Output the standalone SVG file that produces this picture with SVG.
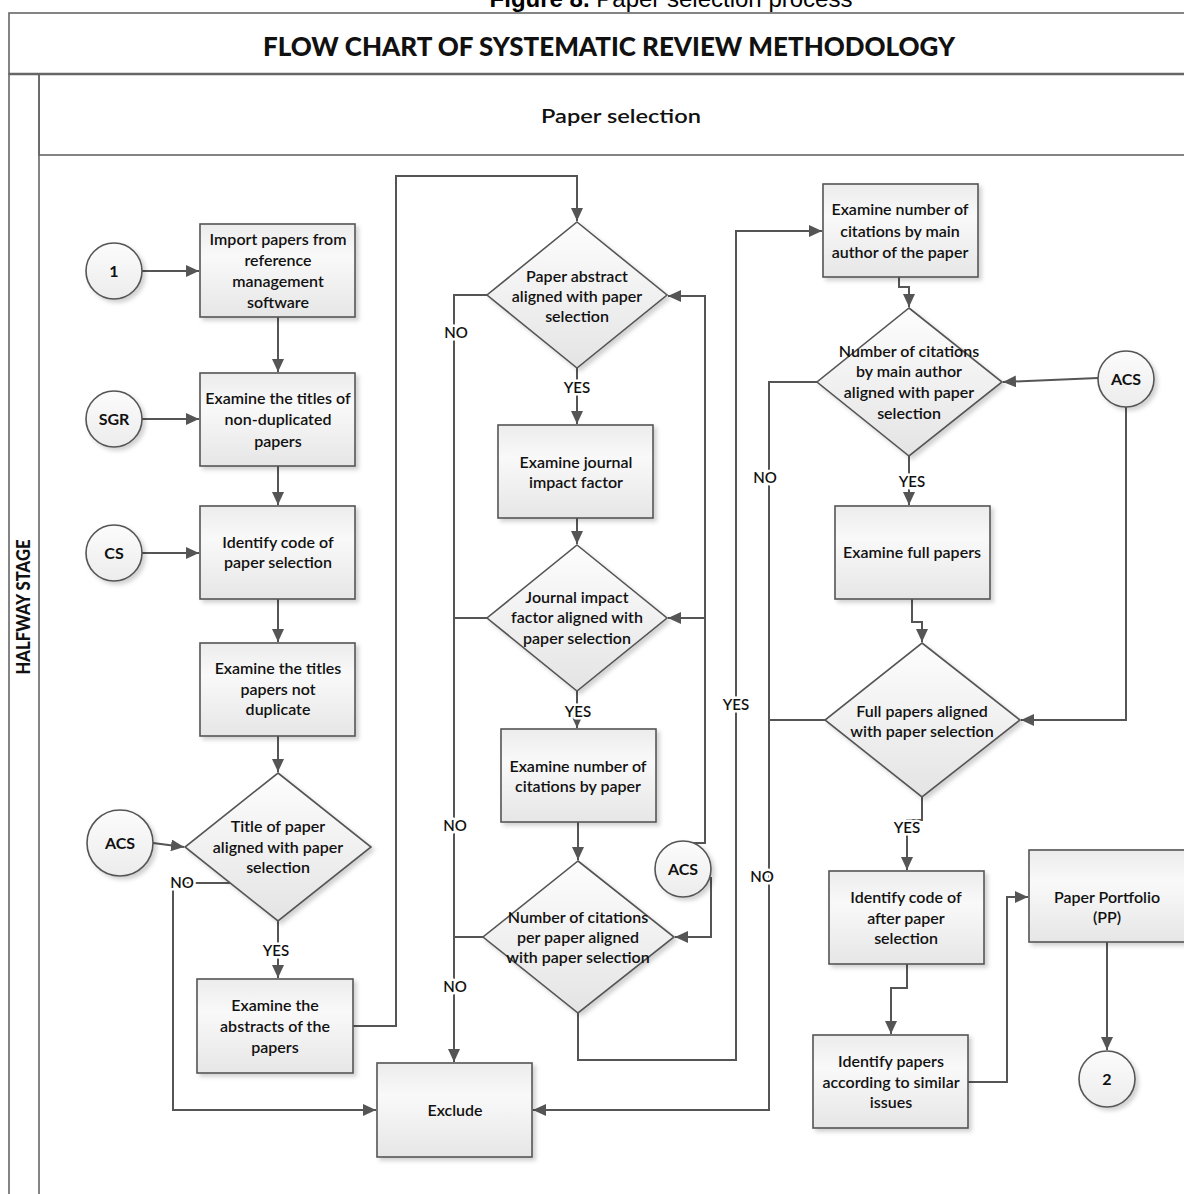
<svg xmlns="http://www.w3.org/2000/svg" width="1184" height="1194" viewBox="0 0 1184 1194">
  <style>
    .frame { fill: none; stroke: #666; stroke-width: 1.6; }
    .node { stroke: #555; stroke-width: 1.6; filter: url(#shadow); }
    .box { fill: url(#boxFill); }
    .dia { fill: url(#diaFill); }
    .circ { fill: url(#circFill); }
    .txt { font-family: "Lato", "Liberation Sans", sans-serif; font-size: 16px; font-weight: 600; fill: #111; text-anchor: middle; }
    .ctxt { font-family: "Lato", "Liberation Sans", sans-serif; font-size: 16px; font-weight: bold; fill: #111; text-anchor: middle; }
    .lbl { font-family: "Lato", "Liberation Sans", sans-serif; font-size: 15px; font-weight: 600; fill: #111; text-anchor: middle; paint-order: stroke; stroke: #fff; stroke-width: 5px; stroke-linejoin: round; }
    .edge { fill: none; stroke: #555; stroke-width: 2; }
    .arr { marker-end: url(#arrow); }
  </style>
  <defs>
    <linearGradient id="boxFill" x1="0" y1="0" x2="0" y2="1">
      <stop offset="0" stop-color="#ececec"/>
      <stop offset="0.35" stop-color="#f9f9f9"/>
      <stop offset="1" stop-color="#e6e6e6"/>
    </linearGradient>
    <linearGradient id="diaFill" x1="0" y1="0" x2="0" y2="1">
      <stop offset="0" stop-color="#fdfdfd"/>
      <stop offset="1" stop-color="#e4e4e4"/>
    </linearGradient>
    <linearGradient id="circFill" x1="0" y1="0" x2="0" y2="1">
      <stop offset="0" stop-color="#fcfcfc"/>
      <stop offset="1" stop-color="#ececec"/>
    </linearGradient>
    <linearGradient id="bandFill" x1="0" y1="0" x2="0" y2="1">
      <stop offset="0" stop-color="#f8f8f8"/>
      <stop offset="1" stop-color="#e3e3e3"/>
    </linearGradient>
    <linearGradient id="laneFill" x1="0" y1="0" x2="1" y2="0">
      <stop offset="0" stop-color="#fdfdfd"/>
      <stop offset="1" stop-color="#e6e6e6"/>
    </linearGradient>
    <filter id="shadow" x="-10%" y="-10%" width="130%" height="130%">
      <feDropShadow dx="3" dy="3" stdDeviation="2" flood-color="#000" flood-opacity="0.18"/>
    </filter>
    <marker id="arrow" viewBox="0 0 13 12" refX="13" refY="6" markerWidth="13" markerHeight="12" markerUnits="userSpaceOnUse" orient="auto">
      <path d="M0,0 L13,6 L0,12 z" fill="#555"/>
    </marker>
  </defs>

  <rect width="1184" height="1194" fill="#fff"/>

  <!-- caption -->
  <text x="671" y="7" font-family="Liberation Sans, Arial, sans-serif" font-size="24" text-anchor="middle" fill="#000"><tspan font-weight="bold">Figure 8.</tspan> Paper selection process</text>

  <!-- pool and lane frame -->
  <g id="frame">
    <rect x="9" y="13" width="1185" height="61" fill="url(#bandFill)" class="frame"/>
    <rect x="9" y="74" width="30" height="1130" fill="url(#laneFill)" class="frame"/>
    <rect x="39" y="74" width="1155" height="81" fill="url(#bandFill)" class="frame"/>
    <line x1="9" y1="74" x2="1184" y2="74" stroke="#666" stroke-width="2.5"/>
    <text x="609" y="56" font-family="Lato, Liberation Sans, sans-serif" font-size="26" font-weight="900" text-anchor="middle" fill="#111" textLength="692" lengthAdjust="spacingAndGlyphs">FLOW CHART OF SYSTEMATIC REVIEW METHODOLOGY</text>
    <text x="621" y="123" font-family="Lato, Liberation Sans, sans-serif" font-size="20" font-weight="600" text-anchor="middle" fill="#111" textLength="160" lengthAdjust="spacingAndGlyphs">Paper selection</text>
    <text transform="translate(30,607) rotate(-90)" font-family="Lato, Liberation Sans, sans-serif" font-size="18" font-weight="900" text-anchor="middle" fill="#111" textLength="135" lengthAdjust="spacingAndGlyphs">HALFWAY STAGE</text>
  </g>

  <!-- connectors -->
  <g id="connectors">
    <path class="edge arr" d="M142,271 H199"/>
    <path class="edge arr" d="M278,317 V372"/>
    <path class="edge arr" d="M142,419 H199"/>
    <path class="edge arr" d="M278,466 V505"/>
    <path class="edge arr" d="M142,553 H199"/>
    <path class="edge arr" d="M278,599 V642"/>
    <path class="edge arr" d="M278,736 V772"/>
    <path class="edge arr" d="M153,843 Q168,845 184,847"/>
    <path class="edge arr" d="M231,883 H173 V1110 H376"/>
    <path class="edge arr" d="M278,921 V978"/>
    <path class="edge arr" d="M353,1026 H396 V176 H577 V221"/>
    <path class="edge arr" d="M487,295 H454 V1062"/>
    <path class="edge" d="M487,618 H454"/>
    <path class="edge" d="M483,937 H454"/>
    <path class="edge arr" d="M577,368 V424"/>
    <path class="edge arr" d="M577,518 V544"/>
    <path class="edge arr" d="M577,691 V728"/>
    <path class="edge arr" d="M578,822 V860"/>
    <path class="edge arr" d="M690,843 H705 V296 H668"/>
    <path class="edge arr" d="M705,618 H668"/>
    <path class="edge arr" d="M711,877 V937 H675"/>
    <path class="edge arr" d="M578,1013 V1060 H736 V231 H822"/>
    <path class="edge arr" d="M899,277 V287 H909 V307"/>
    <path class="edge arr" d="M1098,378 L1003,382"/>
    <path class="edge arr" d="M817,382 H769 V1110 H533"/>
    <path class="edge arr" d="M909,456 V505"/>
    <path class="edge arr" d="M912,599 V622 H922 V642"/>
    <path class="edge arr" d="M1126,407 V720 H1021"/>
    <path class="edge" d="M825,720 H769"/>
    <path class="edge arr" d="M922,797 V820 H907 V870"/>
    <path class="edge arr" d="M907,964 V988 H891 V1034"/>
    <path class="edge arr" d="M968,1082 H1007 V897 H1028"/>
    <path class="edge arr" d="M1107,942 V1050"/>

    <text class="lbl" x="182" y="888">NO</text>
    <text class="lbl" x="276" y="956">YES</text>
    <text class="lbl" x="456" y="338">NO</text>
    <text class="lbl" x="455" y="831">NO</text>
    <text class="lbl" x="455" y="992">NO</text>
    <text class="lbl" x="577" y="393">YES</text>
    <text class="lbl" x="578" y="717">YES</text>
    <text class="lbl" x="736" y="710">YES</text>
    <text class="lbl" x="765" y="483">NO</text>
    <text class="lbl" x="762" y="882">NO</text>
    <text class="lbl" x="912" y="487">YES</text>
    <text class="lbl" x="907" y="833">YES</text>
  </g>

  <!-- column 1 -->
  <g id="start1">
    <circle class="node circ" cx="114" cy="271" r="28"/>
    <text class="ctxt" x="114" y="277">1</text>
  </g>
  <g id="import">
    <rect class="node box" x="200" y="224" width="155" height="93"/>
    <text class="txt" x="278" y="245">Import papers from</text>
    <text class="txt" x="278" y="266">reference</text>
    <text class="txt" x="278" y="287">management</text>
    <text class="txt" x="278" y="308">software</text>
  </g>
  <g id="sgr">
    <circle class="node circ" cx="114" cy="419" r="28"/>
    <text class="ctxt" x="114" y="425">SGR</text>
  </g>
  <g id="titles">
    <rect class="node box" x="200" y="373" width="155" height="93"/>
    <text class="txt" x="278" y="404">Examine the titles of</text>
    <text class="txt" x="278" y="425">non-duplicated</text>
    <text class="txt" x="278" y="447">papers</text>
  </g>
  <g id="cs">
    <circle class="node circ" cx="114" cy="553" r="28"/>
    <text class="ctxt" x="114" y="559">CS</text>
  </g>
  <g id="code">
    <rect class="node box" x="200" y="506" width="155" height="93"/>
    <text class="txt" x="278" y="548">Identify code of</text>
    <text class="txt" x="278" y="568">paper selection</text>
  </g>
  <g id="notdup">
    <rect class="node box" x="200" y="643" width="155" height="93"/>
    <text class="txt" x="278" y="674">Examine the titles</text>
    <text class="txt" x="278" y="695">papers not</text>
    <text class="txt" x="278" y="715">duplicate</text>
  </g>
  <g id="acs1">
    <circle class="node circ" cx="120" cy="843" r="33"/>
    <text class="ctxt" x="120" y="849">ACS</text>
  </g>
  <g id="titleCheck">
    <polygon class="node dia" points="278,773 371,847 278,921 185,847"/>
    <text class="txt" x="278" y="832">Title of paper</text>
    <text class="txt" x="278" y="853">aligned with paper</text>
    <text class="txt" x="278" y="873">selection</text>
  </g>
  <g id="abstracts">
    <rect class="node box" x="197" y="979" width="156" height="94"/>
    <text class="txt" x="275" y="1011">Examine the</text>
    <text class="txt" x="275" y="1032">abstracts of the</text>
    <text class="txt" x="275" y="1053">papers</text>
  </g>
  <g id="exclude">
    <rect class="node box" x="377" y="1063" width="155" height="94"/>
    <text class="txt" x="455" y="1116">Exclude</text>
  </g>

  <!-- column 2 -->
  <g id="abstractCheck">
    <polygon class="node dia" points="577,222 667,295 577,368 487,295"/>
    <text class="txt" x="577" y="282">Paper abstract</text>
    <text class="txt" x="577" y="302">aligned with paper</text>
    <text class="txt" x="577" y="322">selection</text>
  </g>
  <g id="journal">
    <rect class="node box" x="498" y="425" width="155" height="93"/>
    <text class="txt" x="576" y="468">Examine journal</text>
    <text class="txt" x="576" y="488">impact factor</text>
  </g>
  <g id="journalCheck">
    <polygon class="node dia" points="577,545 667,618 577,691 487,618"/>
    <text class="txt" x="577" y="603">Journal impact</text>
    <text class="txt" x="577" y="623">factor aligned with</text>
    <text class="txt" x="577" y="644">paper selection</text>
  </g>
  <g id="citations">
    <rect class="node box" x="501" y="729" width="155" height="93"/>
    <text class="txt" x="578" y="772">Examine number of</text>
    <text class="txt" x="578" y="792">citations by paper</text>
  </g>
  <g id="acs2">
    <circle class="node circ" cx="683" cy="869" r="28"/>
    <text class="ctxt" x="683" y="875">ACS</text>
  </g>
  <g id="citationsCheck">
    <polygon class="node dia" points="578,861 674,937 578,1013 483,937"/>
    <text class="txt" x="578" y="923">Number of citations</text>
    <text class="txt" x="578" y="943">per paper aligned</text>
    <text class="txt" x="578" y="963">with paper selection</text>
  </g>

  <!-- column 3 -->
  <g id="author">
    <rect class="node box" x="823" y="184" width="155" height="93"/>
    <text class="txt" x="900" y="215">Examine number of</text>
    <text class="txt" x="900" y="237">citations by main</text>
    <text class="txt" x="900" y="258">author of the paper</text>
  </g>
  <g id="authorCheck">
    <polygon class="node dia" points="909,308 1002,382 909,456 817,382"/>
    <text class="txt" x="909" y="357">Number of citations</text>
    <text class="txt" x="909" y="377">by main author</text>
    <text class="txt" x="909" y="398">aligned with paper</text>
    <text class="txt" x="909" y="419">selection</text>
  </g>
  <g id="acs3">
    <circle class="node circ" cx="1126" cy="379" r="28"/>
    <text class="ctxt" x="1126" y="385">ACS</text>
  </g>
  <g id="full">
    <rect class="node box" x="835" y="506" width="155" height="93"/>
    <text class="txt" x="912" y="558">Examine full papers</text>
  </g>
  <g id="fullCheck">
    <polygon class="node dia" points="922,643 1020,720 922,797 825,720"/>
    <text class="txt" x="922" y="717">Full papers aligned</text>
    <text class="txt" x="922" y="737">with paper selection</text>
  </g>
  <g id="codeAfter">
    <rect class="node box" x="829" y="871" width="155" height="93"/>
    <text class="txt" x="906" y="903">Identify code of</text>
    <text class="txt" x="906" y="924">after paper</text>
    <text class="txt" x="906" y="944">selection</text>
  </g>
  <g id="similar">
    <rect class="node box" x="813" y="1035" width="155" height="93"/>
    <text class="txt" x="891" y="1067">Identify papers</text>
    <text class="txt" x="891" y="1088">according to similar</text>
    <text class="txt" x="891" y="1108">issues</text>
  </g>
  <g id="portfolio">
    <rect class="node box" x="1029" y="850" width="156" height="92"/>
    <text class="txt" x="1107" y="903">Paper Portfolio</text>
    <text class="txt" x="1107" y="923">(PP)</text>
  </g>
  <g id="end2">
    <circle class="node circ" cx="1107" cy="1079" r="28"/>
    <text class="ctxt" x="1107" y="1085">2</text>
  </g>
</svg>
